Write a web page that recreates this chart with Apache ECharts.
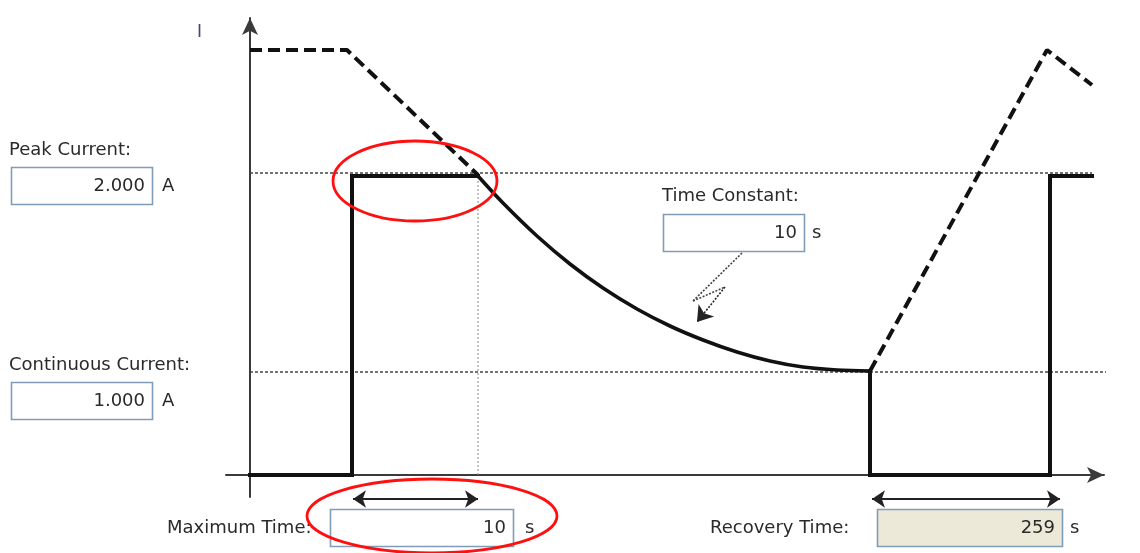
<!DOCTYPE html>
<html>
<head>
<meta charset="utf-8">
<script src="https://cdn.jsdelivr.net/npm/echarts@6/dist/echarts.min.js"></script>
<style>
  html, body { margin: 0; padding: 0; background: #ffffff; }
  #chart { width: 1140px; height: 553px; }
</style>
</head>
<body>
<div id="chart"></div>
<script>
// ---- schematic data (x: time in schematic units, y: current in schematic units) ----
const peakLevel = 300;        // 2.000 A level
const contLevel = 103;        // 1.000 A level
const xEnd = 842;
// solid current trace: pulse, exponential decay, recovery gap, new pulse
const pulseRise = [[0, 0], [102, 0], [102, 299], [228, 299]];
const decayCurve = [
  [228, 299], [253, 272], [287, 239], [320, 211], [353, 187], [387, 166], [420, 149],
  [453, 135], [487, 123], [520, 114], [553, 108], [587, 105], [620, 104]
];
const recoveryTrace = [[620, 104], [620, 0], [800, 0], [800, 299], [842, 299]];
// dashed thermal limit segments
const limitStart = [[0, 425], [97, 425], [228, 300]];
const limitEnd = [[620, 104], [797, 425], [842, 390]];
// reference dotted lines
const peakGuide = [[0, peakLevel + 2], [xEnd, peakLevel + 2]];
const contGuide = [[0, contLevel], [862, contLevel]];
const maxTimeGuide = [[228, 0], [228, peakLevel]];
// dimension arrows
const dimArrows = [
  [[103, -24], [228, -24]],
  [[622, -24], [810, -24]]
];
// lightning pointer (time constant)
const boltLines = [
  [[492, 222], [443, 174]],
  [[443, 174], [475, 188]]
];
const boltArrow = [[[475, 188], [447, 153]]];
// highlight ellipses [cx, cy, rx, ry]
const highlights = [
  [165, 294, 82, 40],
  [182, -41, 125, 37]
];
// field texts
const fieldLabels = ['Peak Current:', 'Continuous Current:', 'Time Constant:', 'Maximum Time:', 'Recovery Time:'];
const fieldValues = ['2.000', '1.000', '10', '10', '259'];
const fieldUnits = ['A', 'A', 's', 's', 's'];

const FS = 18;
const FF = 'DejaVu Sans';
const TXT = '#2a2a2a';
const BORDER = '#7f9db9';

function txtStyle(t, align) {
  return { text: t, fill: TXT, fontSize: FS, fontFamily: FF, font: FS + 'px ' + FF,
    textAlign: align, align: align, textVerticalAlign: 'middle', verticalAlign: 'middle' };
}
function label(x, y, t) {
  return { type: 'text', x: x, y: y, style: txtStyle(t, 'left') };
}
function box(x1, y1, x2, y2, fill, val, unitX, unit) {
  return [
    { type: 'rect', shape: { x: x1 + 0.5, y: y1 + 0.5, width: x2 - x1, height: y2 - y1 },
      style: { fill: fill, stroke: BORDER, lineWidth: 1.6 } },
    { type: 'text', x: x2 - 7, y: (y1 + y2) / 2 + 1, style: txtStyle(val, 'right') },
    { type: 'text', x: unitX, y: (y1 + y2) / 2 + 1, style: txtStyle(unit, 'left') }
  ];
}

const graphics = [].concat(
  [label(9, 150, fieldLabels[0])], box(11, 167, 152, 204, '#ffffff', fieldValues[0], 162, fieldUnits[0]),
  [label(9, 365, fieldLabels[1])], box(11, 382, 152, 419, '#ffffff', fieldValues[1], 162, fieldUnits[1]),
  [label(662, 196, fieldLabels[2])], box(663, 214, 804, 251, '#ffffff', fieldValues[2], 812, fieldUnits[2]),
  [label(167, 528, fieldLabels[3])], box(330, 509, 513, 546, '#ffffff', fieldValues[3], 525, fieldUnits[3]),
  [label(710, 528, fieldLabels[4])], box(877, 509, 1062, 546, '#ece9d8', fieldValues[4], 1070, fieldUnits[4]),
  [{ type: 'text', x: 197, y: 33, style: { text: 'I', fill: '#444a66', fontSize: 17, fontFamily: FF,
      font: '17px ' + FF, textVerticalAlign: 'middle', verticalAlign: 'middle' } }]
);

const chart = echarts.init(document.getElementById('chart'), null, { renderer: 'canvas' });

const dotted = { color: '#444', width: 1.3, type: [3, 2] };
const solid = { color: '#111', width: 4, join: 'miter', cap: 'square' };
const dashed = { color: '#111', width: 4, type: [12, 6] };

chart.setOption({
  animation: false,
  backgroundColor: '#ffffff',
  grid: { left: 226, right: 36, top: 18, bottom: 56 },
  xAxis: {
    type: 'value', min: -24, max: 854,
    axisLine: { show: true, onZero: true, symbol: ['none', 'arrow'], symbolSize: [12, 17],
      lineStyle: { color: '#3a3a3a', width: 2 } },
    axisTick: { show: false }, axisLabel: { show: false }, splitLine: { show: false }
  },
  yAxis: {
    type: 'value', min: -22, max: 457,
    axisLine: { show: true, onZero: true, symbol: ['none', 'arrow'], symbolSize: [12, 17],
      lineStyle: { color: '#3a3a3a', width: 2 } },
    axisTick: { show: false }, axisLabel: { show: false }, splitLine: { show: false }
  },
  graphic: graphics,
  series: [
    { type: 'line', data: peakGuide, showSymbol: false, clip: false, z: 1, lineStyle: dotted },
    { type: 'line', data: contGuide, showSymbol: false, clip: false, z: 1, lineStyle: dotted },
    { type: 'line', data: maxTimeGuide, showSymbol: false, clip: false, z: 1,
      lineStyle: { color: '#888', width: 1, type: [2, 2] } },
    { type: 'line', data: limitStart, showSymbol: false, clip: false, z: 2, lineStyle: dashed },
    { type: 'line', data: limitEnd, showSymbol: false, clip: false, z: 2, lineStyle: dashed },
    { type: 'line', data: pulseRise, showSymbol: false, clip: false, z: 3, lineStyle: solid },
    { type: 'line', data: decayCurve, showSymbol: false, clip: false, z: 3, smooth: 0.35,
      lineStyle: { color: '#111', width: 3.6, cap: 'round', join: 'round' } },
    { type: 'line', data: recoveryTrace, showSymbol: false, clip: false, z: 3, lineStyle: solid },
    { type: 'lines', coordinateSystem: 'cartesian2d', clip: false, z: 4,
      symbol: ['arrow', 'arrow'], symbolSize: [13, 13],
      lineStyle: { color: '#222', width: 1.8, opacity: 1, curveness: 0 },
      data: dimArrows.map(c => ({ coords: c })) },
    { type: 'lines', coordinateSystem: 'cartesian2d', clip: false, z: 4,
      symbol: ['none', 'none'],
      lineStyle: { color: '#444', width: 1.6, opacity: 1, type: [2, 1.5] },
      data: boltLines.map(c => ({ coords: c })) },
    { type: 'lines', coordinateSystem: 'cartesian2d', clip: false, z: 4,
      symbol: ['none', 'arrow'], symbolSize: 15,
      lineStyle: { color: '#222', width: 1.6, opacity: 1, type: [2, 1.5] },
      data: boltArrow.map(c => ({ coords: c })) },
    { type: 'custom', coordinateSystem: 'cartesian2d', clip: false, z: 5,
      data: highlights,
      renderItem: function (params, api) {
        const c = api.coord([api.value(0), api.value(1)]);
        const s = api.size([api.value(2), api.value(3)]);
        return { type: 'ellipse', shape: { cx: c[0], cy: c[1], rx: s[0], ry: s[1] },
          style: { fill: 'none', stroke: '#ff1010', lineWidth: 2.8 } };
      }
    }
  ]
});
</script>
</body>
</html>
